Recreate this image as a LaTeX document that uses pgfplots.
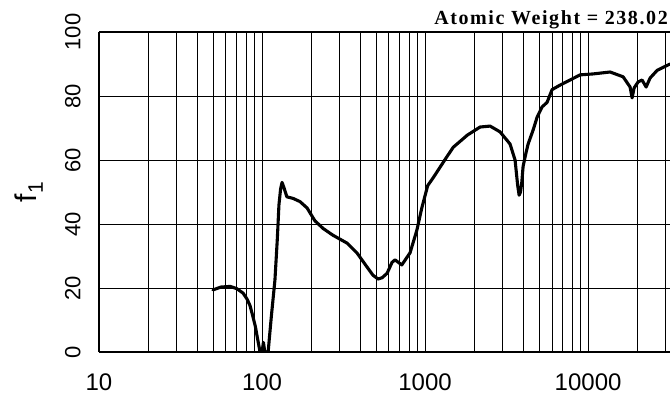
\documentclass[border=0pt]{standalone}
\usepackage{fontspec}
\setmainfont{Liberation Sans}
\newfontfamily\titlefont[LetterSpace=8]{Liberation Serif}
\usepackage{pgfplots}
\pgfplotsset{compat=1.18}

\begin{document}
\begin{tikzpicture}
\begin{axis}[
  scale only axis,
  width=571pt, height=320pt,
  xmode=log, log basis x=10,
  xmin=10, xmax=31800,
  ymin=0, ymax=100,
  axis x line*=box, axis y line*=left,
  axis line style={line width=2.4pt, -},
  xtick={10,100,1000,10000},
  xticklabels={10,100,1000,10000},
  minor xtick={20,30,40,50,60,70,80,90,200,300,400,500,600,700,800,900,
    2000,3000,4000,5000,6000,7000,8000,9000,20000,30000},
  ytick={0,20,40,60,80,100},
  yticklabels={0,20,40,60,80,100},
  major tick length=0pt, minor tick length=0pt,
  grid=both,
  major grid style={black, line width=0.8pt},
  minor grid style={black, line width=0.8pt},
  yticklabel style={font=\fontsize{22}{22}\selectfont, rotate=90, anchor=south, yshift=15pt},
  xticklabel style={font=\fontsize{24}{24}\selectfont, anchor=north, yshift=-18pt},
]
\addplot[black, line width=3.1pt, line join=round, line cap=round] coordinates {
  (50,19.4) (56,20.3) (63.7,20.5) (70,19.8) (76.5,18.4) (81,16.5) (84.4,14.5)
  (88,11) (91,8) (94,4) (97,0.3) (100,0) (102,3) (104,0) (109,0)
  (114,11) (120,22.5) (124,35) (127,46) (130,51) (132.7,53) (136,51.5)
  (142,48.5) (155,48) (171,47) (189,45) (211,41) (237,38.6) (272,36.5)
  (333,34) (383,30.9) (440,26.6) (479,24) (515,22.8) (545,23.2) (585,24.6)
  (627,28) (654,28.8) (720,27.2) (809,31) (890,38) (955,45) (1038,52)
  (1120,54.4) (1360,61) (1490,64) (1820,67.8) (2175,70.3) (2505,70.6)
  (2882,68.8) (3321,65) (3565,60) (3700,52) (3776,49) (3850,50) (3920,53)
  (3994,58) (4150,62) (4287,65) (4603,69.4) (4868,73.4) (5224,76.6)
  (5601,78) (6013,82) (6730,83.4) (7755,85) (8933,86.6) (10737,86.9)
  (13650,87.5) (16400,86) (18100,82.8) (18620,79.4) (19150,82.5)
  (20270,84.4) (21440,85) (22700,82.8) (23990,85.6) (26500,88) (31800,90)
};
\coordinate (sw) at (rel axis cs:0,0);
\coordinate (w) at (rel axis cs:0,0.5);
\coordinate (ne) at (rel axis cs:1,1);
\end{axis}
\node[rotate=90, font=\fontsize{30}{30}\selectfont] at ([xshift=-70pt]w) {f\textsubscript{1}};
\node[anchor=base east, inner sep=0pt, font=\titlefont\bfseries\fontsize{20}{20}\selectfont]
  at ([xshift=-2pt,yshift=7pt]ne) {Atomic Weight = 238.02};
\pgfresetboundingbox
\path[use as bounding box] ([xshift=-99pt,yshift=-42pt]sw) rectangle ([yshift=32pt]ne);
\end{tikzpicture}
\end{document}
